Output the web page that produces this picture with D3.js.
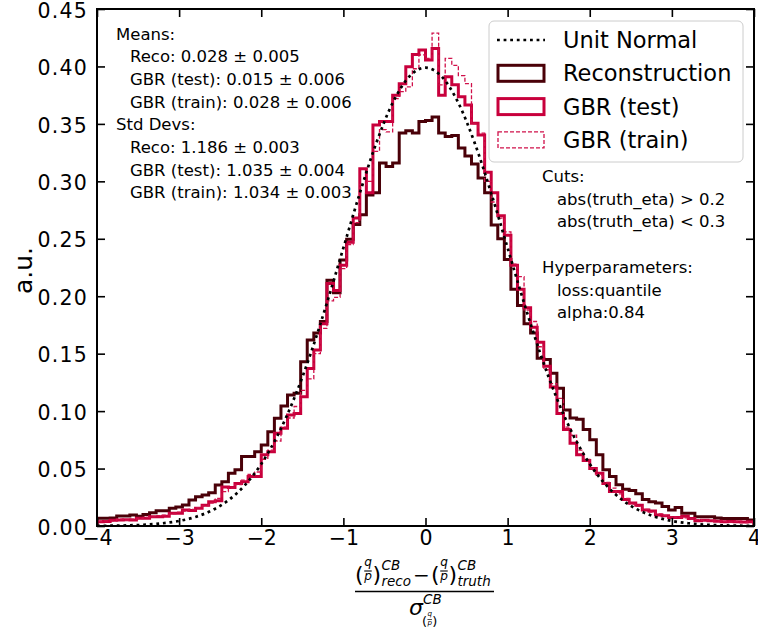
<!DOCTYPE html>
<html>
<head>
<meta charset="utf-8">
<script src="https://cdnjs.cloudflare.com/ajax/libs/d3/7.8.5/d3.min.js"></script>
<style>
body { margin: 0; background: #fff; }
text { font-family: "DejaVu Sans", sans-serif; fill: #000; }
</style>
</head>
<body>
<div id="chart"></div>
<script>
// histogram bins: 100 bins of width 0.08 from -4 to 4
var binStart = -4, binWidth = 0.08;

var recoValues = [
  0.0067, 0.0067, 0.0070, 0.0087, 0.0087, 0.0095, 0.0085, 0.0100, 0.0116, 0.0133,
  0.0133, 0.0154, 0.0165, 0.0183, 0.0226, 0.0255, 0.0270, 0.0290, 0.0357, 0.0386,
  0.0460, 0.0490, 0.0606, 0.0606, 0.0647, 0.0705, 0.0820, 0.0937, 0.1045, 0.1140,
  0.1155, 0.1430, 0.1620, 0.1680, 0.1780, 0.2140, 0.2030, 0.2315, 0.2495, 0.2625,
  0.2710, 0.2880, 0.2900, 0.3160, 0.3130, 0.3160, 0.3420, 0.3440, 0.3420, 0.3520,
  0.3530, 0.3560, 0.3420, 0.3390, 0.3400, 0.3290, 0.3220, 0.3150, 0.3030, 0.2900,
  0.2620, 0.2500, 0.2320, 0.2060, 0.1920, 0.1760, 0.1680, 0.1460, 0.1450, 0.1330,
  0.1200, 0.1010, 0.0940, 0.0930, 0.0840, 0.0750, 0.0620, 0.0490, 0.0430, 0.0360,
  0.0320, 0.0310, 0.0280, 0.0230, 0.0210, 0.0200, 0.0170, 0.0140, 0.0160, 0.0110,
  0.0110, 0.0080, 0.0080, 0.0080, 0.0070, 0.0066, 0.0066, 0.0066, 0.0066, 0.0052
];

var testValues = [
  0.0038, 0.0040, 0.0050, 0.0052, 0.0055, 0.0052, 0.0067, 0.0067, 0.0081, 0.0081,
  0.0085, 0.0110, 0.0110, 0.0139, 0.0135, 0.0154, 0.0180, 0.0212, 0.0220, 0.0340,
  0.0335, 0.0370, 0.0386, 0.0430, 0.0430, 0.0620, 0.0647, 0.0807, 0.0850, 0.0966,
  0.0980, 0.1125, 0.1370, 0.1532, 0.1760, 0.2110, 0.2050, 0.2270, 0.2470, 0.2680,
  0.3110, 0.2900, 0.3490, 0.3520, 0.3520, 0.3750, 0.3850, 0.3997, 0.4105, 0.4143,
  0.4056, 0.4157, 0.3750, 0.3910, 0.3840, 0.3736, 0.3664, 0.3505, 0.3403, 0.3080,
  0.2900, 0.2700, 0.2530, 0.2270, 0.2060, 0.1900, 0.1730, 0.1600, 0.1390, 0.1210,
  0.0980, 0.0840, 0.0720, 0.0620, 0.0570, 0.0500, 0.0460, 0.0370, 0.0300, 0.0300,
  0.0230, 0.0200, 0.0180, 0.0140, 0.0130, 0.0095, 0.0090, 0.0075, 0.0075, 0.0085,
  0.0066, 0.0046, 0.0050, 0.0046, 0.0042, 0.0037, 0.0040, 0.0037, 0.0035, 0.0037
];

var trainValues = [
  0.0040, 0.0045, 0.0045, 0.0060, 0.0050, 0.0060, 0.0065, 0.0075, 0.0080, 0.0090,
  0.0095, 0.0105, 0.0120, 0.0130, 0.0145, 0.0160, 0.0175, 0.0200, 0.0240, 0.0300,
  0.0330, 0.0360, 0.0400, 0.0450, 0.0470, 0.0580, 0.0660, 0.0740, 0.0860, 0.0940,
  0.1040, 0.1180, 0.1280, 0.1500, 0.1720, 0.1960, 0.1990, 0.2240, 0.2450, 0.2640,
  0.2970, 0.3000, 0.3260, 0.3450, 0.3430, 0.3720, 0.3780, 0.3823, 0.3980, 0.4100,
  0.4070, 0.4290, 0.3840, 0.4070, 0.4010, 0.3920, 0.3850, 0.3500, 0.3420, 0.3000,
  0.2820, 0.2680, 0.2560, 0.2280, 0.2170, 0.1880, 0.1780, 0.1560, 0.1360, 0.1240,
  0.1110, 0.0860, 0.0790, 0.0660, 0.0580, 0.0500, 0.0440, 0.0380, 0.0330, 0.0280,
  0.0240, 0.0190, 0.0170, 0.0145, 0.0120, 0.0105, 0.0090, 0.0080, 0.0075, 0.0070,
  0.0060, 0.0055, 0.0050, 0.0045, 0.0045, 0.0040, 0.0035, 0.0040, 0.0030, 0.0035
];

// unit normal curve, read at steps of 0.2
var normalX = [-4.0, -3.8, -3.6, -3.4, -3.2, -3.0, -2.8, -2.6, -2.4, -2.2, -2.0, -1.8, -1.6, -1.4, -1.2, -1.0, -0.8, -0.6, -0.4, -0.2,
  0.0, 0.2, 0.4, 0.6, 0.8, 1.0, 1.2, 1.4, 1.6, 1.8, 2.0, 2.2, 2.4, 2.6, 2.8, 3.0, 3.2, 3.4, 3.6, 3.8, 4.0];
var normalY = [0.0001, 0.0003, 0.0006, 0.0012, 0.0024, 0.0044, 0.0079, 0.0136, 0.0224, 0.0355, 0.0540, 0.0790, 0.1109, 0.1497, 0.1942, 0.2420, 0.2897, 0.3332, 0.3683, 0.3910,
  0.3989, 0.3910, 0.3683, 0.3332, 0.2897, 0.2420, 0.1942, 0.1497, 0.1109, 0.0790, 0.0540, 0.0355, 0.0224, 0.0136, 0.0079, 0.0044, 0.0024, 0.0012, 0.0006, 0.0003, 0.0001];

var xTicks = [-4, -3, -2, -1, 0, 1, 2, 3, 4];
var yTicks = [0.00, 0.05, 0.10, 0.15, 0.20, 0.25, 0.30, 0.35, 0.40, 0.45];

var legendLabels = ["Unit Normal", "Reconstruction", "GBR (test)", "GBR (train)"];

var statsLines = ["Means:", "Reco: 0.028 \u00b1 0.005", "GBR (test): 0.015 \u00b1 0.006", "GBR (train): 0.028 \u00b1 0.006",
  "Std Devs:", "Reco: 1.186 \u00b1 0.003", "GBR (test): 1.035 \u00b1 0.004", "GBR (train): 1.034 \u00b1 0.003"];
var statsIndent = [0, 1, 1, 1, 0, 1, 1, 1];

var cutsLines = ["Cuts:", "abs(truth_eta) > 0.2", "abs(truth_eta) < 0.3", "", "Hyperparameters:", "loss:quantile", "alpha:0.84"];
var cutsIndent = [0, 1, 1, 0, 0, 1, 1];

var recoColor = "#4a0008",
    testColor = "#c8003c",
    trainColor = "#d0104a";

var margin = {top: 9, right: 4, bottom: 104, left: 97},
    W = 758, H = 630,
    width = W - margin.left - margin.right,
    height = H - margin.top - margin.bottom;

var x = d3.scaleLinear().domain([-4, 4]).range([0, width]);
var y = d3.scaleLinear().domain([0, 0.45]).range([height, 0]);

var svg = d3.select("#chart").append("svg")
    .attr("width", W)
    .attr("height", H)
    .style("background", "#fff");

var g = svg.append("g")
    .attr("transform", "translate(" + margin.left + "," + margin.top + ")");

g.append("clipPath").attr("id", "plotclip")
  .append("rect").attr("width", width).attr("height", height);

// step outline like matplotlib histtype='step'
function stepPoints(vals) {
  var pts = [[binStart, 0]];
  vals.forEach(function(v, i) { pts.push([binStart + i * binWidth, v]); });
  var end = binStart + vals.length * binWidth;
  pts.push([end, vals[vals.length - 1]]);
  pts.push([end, 0]);
  return pts;
}

var stepLine = d3.line()
    .curve(d3.curveStepAfter)
    .x(function(d) { return x(d[0]); })
    .y(function(d) { return y(d[1]); });

var plot = g.append("g").attr("clip-path", "url(#plotclip)");

plot.append("path")
    .attr("d", stepLine(stepPoints(recoValues)))
    .attr("fill", "none")
    .attr("stroke", recoColor)
    .attr("stroke-width", 3);

plot.append("path")
    .attr("d", stepLine(stepPoints(testValues)))
    .attr("fill", "none")
    .attr("stroke", testColor)
    .attr("stroke-width", 3);

plot.append("path")
    .attr("d", stepLine(stepPoints(trainValues)))
    .attr("fill", "none")
    .attr("stroke", trainColor)
    .attr("stroke-width", 1.3)
    .attr("stroke-dasharray", "4,2");

var normLine = d3.line()
    .curve(d3.curveMonotoneX)
    .x(function(d, i) { return x(normalX[i]); })
    .y(function(d) { return y(d); });

plot.append("path")
    .attr("d", normLine(normalY))
    .attr("fill", "none")
    .attr("stroke", "#000")
    .attr("stroke-width", 2.7)
    .attr("stroke-dasharray", "2.8,3.8");

// AXES (ticks inward on all four sides)

var tickLen = 8;

var xAxis = g.append("g")
    .attr("transform", "translate(0," + height + ")")
    .call(d3.axisBottom(x).tickValues(xTicks).tickSize(-tickLen).tickPadding(4)
      .tickFormat(function(d) { return d < 0 ? "\u2212" + Math.abs(d) : d; }));

var xAxisTop = g.append("g")
    .call(d3.axisTop(x).tickValues(xTicks).tickSize(-tickLen).tickFormat(""));

var yAxis = g.append("g")
    .call(d3.axisLeft(y).tickValues(yTicks).tickSize(-tickLen).tickPadding(9).tickFormat(d3.format(".2f")));

var yAxisRight = g.append("g")
    .attr("transform", "translate(" + width + ",0)")
    .call(d3.axisRight(y).tickValues(yTicks).tickSize(-tickLen).tickFormat(""));

[xAxis, xAxisTop, yAxis, yAxisRight].forEach(function(a) {
  a.select(".domain").remove();
  a.selectAll(".tick line").attr("stroke", "#000").attr("stroke-width", 1.6);
  a.selectAll(".tick text").style("font-size", "20.5px").style("font-family", "'DejaVu Sans', sans-serif");
});
yAxis.selectAll(".tick text").attr("dy", "0.4em").style("letter-spacing", "1.2px");

g.append("rect")
    .attr("width", width)
    .attr("height", height)
    .attr("fill", "none")
    .attr("stroke", "#000")
    .attr("stroke-width", 2);

// Y LABEL
svg.append("text")
    .attr("transform", "translate(32," + (margin.top + height / 2 + 3) + ") rotate(-90)")
    .attr("text-anchor", "middle")
    .style("font-size", "25px")
    .text("a.u.");

// X LABEL (fraction)
var xl = svg.append("g");

function qOverP(grp, x0, yb, fs) {
  // parenthesised small q over p, returns right edge
  var pw = fs * 0.39;
  grp.append("text").attr("x", x0).attr("y", yb).style("font-size", fs + "px").text("(");
  var cx = x0 + pw + fs * 0.2;
  var sfs = fs * 0.55;
  grp.append("text").attr("x", cx).attr("y", yb - fs * 0.74).attr("text-anchor", "middle")
    .style("font-size", sfs + "px").style("font-style", "italic").text("q");
  grp.append("line").attr("x1", cx - fs * 0.17).attr("x2", cx + fs * 0.17)
    .attr("y1", yb - fs * 0.5).attr("y2", yb - fs * 0.5)
    .attr("stroke", "#000").attr("stroke-width", Math.max(0.7, fs * 0.05));
  grp.append("text").attr("x", cx).attr("y", yb - fs * 0.1).attr("text-anchor", "middle")
    .style("font-size", sfs + "px").style("font-style", "italic").text("p");
  grp.append("text").attr("x", cx + fs * 0.2).attr("y", yb).style("font-size", fs + "px").text(")");
  return cx + fs * 0.2 + pw;
}

var nb = 582;
var r1 = qOverP(xl, 355, nb, 22);
xl.append("text").attr("x", r1 + 0.5).attr("y", 570).style("font-size", "13.5px").style("font-style", "italic").text("CB");
xl.append("text").attr("x", r1 + 0.5).attr("y", 586).style("font-size", "13.5px").style("font-style", "italic").text("reco");
xl.append("text").attr("x", 413).attr("y", nb).style("font-size", "20px").text("\u2212");
var r2 = qOverP(xl, 431, nb, 22);
xl.append("text").attr("x", r2 + 0.5).attr("y", 570).style("font-size", "13.5px").style("font-style", "italic").text("CB");
xl.append("text").attr("x", r2 + 0.5).attr("y", 586).style("font-size", "13.5px").style("font-style", "italic").text("truth");

xl.append("line").attr("x1", 355).attr("x2", 494).attr("y1", 591.5).attr("y2", 591.5)
  .attr("stroke", "#000").attr("stroke-width", 1.5);

xl.append("text").attr("x", 409).attr("y", 615).style("font-size", "22px").style("font-style", "italic").text("\u03c3");
xl.append("text").attr("x", 423).attr("y", 604).style("font-size", "13.5px").style("font-style", "italic").text("CB");
qOverP(xl, 422, 626, 13);

// LEGEND
var lg = svg.append("g");
lg.append("rect")
    .attr("x", 489).attr("y", 21).attr("width", 254).attr("height", 141)
    .attr("rx", 5)
    .attr("fill", "#fff").attr("fill-opacity", 0.85)
    .attr("stroke", "#cccccc").attr("stroke-width", 1);

var rowY = function(i) { return 40 + i * 33.3; };

lg.append("line").attr("x1", 497).attr("x2", 545).attr("y1", rowY(0)).attr("y2", rowY(0))
    .attr("stroke", "#000").attr("stroke-width", 2.7).attr("stroke-dasharray", "2.8,3.8");

var handleStyles = [null,
  {c: recoColor, w: 3, d: null},
  {c: testColor, w: 3, d: null},
  {c: trainColor, w: 1.3, d: "4,2"}];

handleStyles.forEach(function(s, i) {
  if (!s) return;
  lg.append("rect")
    .attr("x", 498).attr("y", rowY(i) - 8).attr("width", 46).attr("height", 16)
    .attr("fill", "none").attr("stroke", s.c).attr("stroke-width", s.w)
    .attr("stroke-dasharray", s.d);
});

lg.selectAll(".lt").data(legendLabels).enter().append("text")
    .attr("x", 563)
    .attr("y", function(d, i) { return rowY(i) + 8; })
    .style("font-size", "22.5px")
    .text(function(d) { return d; });

// ANNOTATIONS
svg.append("g").selectAll("text").data(statsLines).enter().append("text")
    .attr("x", function(d, i) { return statsIndent[i] ? 130 : 116; })
    .attr("y", function(d, i) { return 39.5 + i * 22.7; })
    .style("font-size", "16.5px")
    .text(function(d) { return d; });

svg.append("g").selectAll("text").data(cutsLines).enter().append("text")
    .attr("x", function(d, i) { return cutsIndent[i] ? 557 : 542; })
    .attr("y", function(d, i) { return 182 + i * 22.7; })
    .style("font-size", "16.5px")
    .text(function(d) { return d; });
</script>
</body>
</html>
